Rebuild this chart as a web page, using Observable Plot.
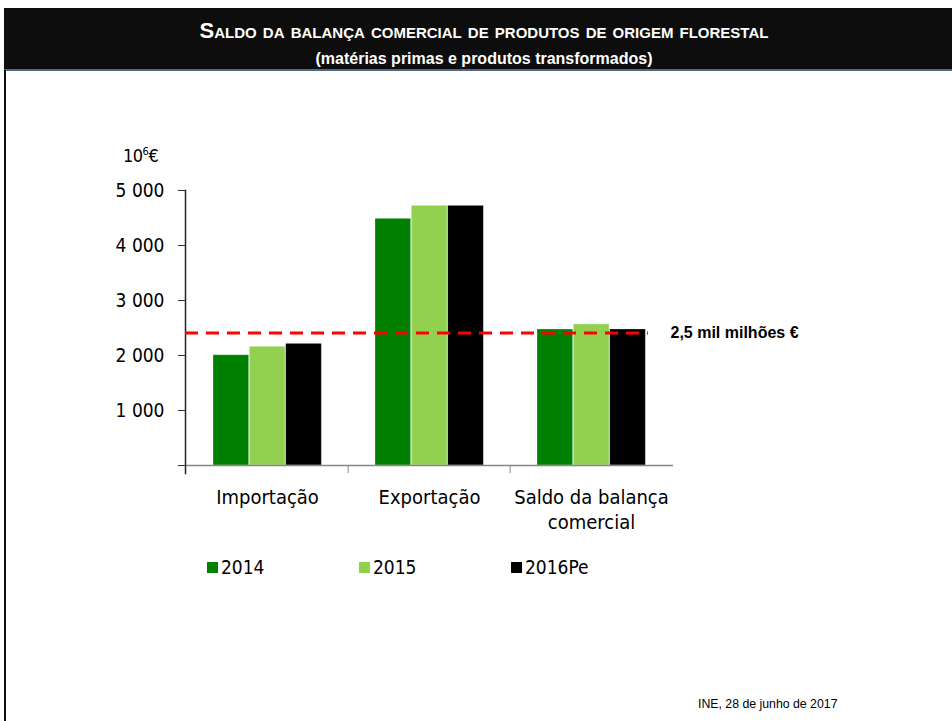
<!DOCTYPE html>
<html>
<head>
<meta charset="utf-8">
<script src="https://cdn.jsdelivr.net/npm/d3@7"></script>
<script src="https://cdn.jsdelivr.net/npm/@observablehq/plot@0.6"></script>
<style>
  html, body { margin: 0; padding: 0; }
  body { width: 952px; height: 721px; position: relative; overflow: hidden; background: #fff;
         font-family: "DejaVu Sans Condensed", "DejaVu Sans", sans-serif; font-stretch: condensed; color: #000; }
  #header { position: absolute; left: 4px; top: 8px; width: 960px; height: 61px; background: #0d0d0d;
            border-bottom: 2px solid #50698a; color: #fff; text-align: center;
            font-family: "Liberation Sans", sans-serif; font-weight: bold; font-stretch: normal; }
  #title { position: absolute; left: 0; right: 0; top: 12px; font-size: 22px; font-variant: small-caps; line-height: 22px; }
  #subtitle { position: absolute; left: 0; right: 0; top: 42px; font-size: 16px; line-height: 18px; }
  #leftline { position: absolute; left: 4px; top: 70px; width: 2px; height: 660px; background: #0d0d0d; }
  #unit { position: absolute; left: 123px; top: 145px; font-size: 18px; letter-spacing: -0.5px; }
  #unit sup { font-size: 11px; vertical-align: 7px; }
  #chart { position: absolute; left: 0; top: 130px; }
  #legend { position: absolute; top: 556px; left: 0; font-size: 19px; }
  .item { position: absolute; white-space: nowrap; display: flex; align-items: center; }
  .sw { width: 11px; height: 11px; margin-right: 3px; }
  #footer { position: absolute; left: 698px; top: 697px; font-family: "Liberation Sans", sans-serif;
            font-stretch: normal; font-size: 12.3px; }
</style>
</head>
<body>
<div id="header"><div id="title"></div><div id="subtitle"></div></div>
<div id="leftline"></div>
<div id="unit"></div>
<div id="chart"></div>
<div id="legend"></div>
<div id="footer"></div>
<script>
// ---- data ----
const titleText = "Saldo da balança comercial de produtos de origem florestal";
const subtitleText = "(matérias primas e produtos transformados)";
const footerText = "INE, 28 de junho de 2017";
const categories = ["Importação", "Exportação", "Saldo da balança comercial"];
const categoryLabels = ["Importação", "Exportação", "Saldo da balança\ncomercial"];
const years = ["2014", "2015", "2016Pe"];
const colors = ["#008000", "#92d050", "#000000"];
const values2014 = [2005, 4485, 2473];
const values2015 = [2158, 4721, 2564];
const values2016 = [2212, 4721, 2473];
const yTicks = [0, 1000, 2000, 3000, 4000, 5000];
const referenceValue = 2410;
const referenceLabel = "2,5 mil milhões €";
const unitBase = "10";
const unitSup = "6";
const unitSuffix = "€";

// ---- text ----
document.getElementById("title").textContent = titleText.toUpperCase().charAt(0) + titleText.slice(1);
document.getElementById("subtitle").textContent = subtitleText;
document.getElementById("footer").textContent = footerText;
document.getElementById("unit").innerHTML = unitBase + "<sup>" + unitSup + "</sup>" + unitSuffix;

// ---- chart ----
const width = 952, height = 410;
const marginLeft = 185, marginRight = 279, marginTop = 60, marginBottom = 75;
const bw = (width - marginLeft - marginRight) / categories.length;
const groupStart = 0.166, groupEnd = 0.836;
const barW = (groupEnd - groupStart) / years.length;
const series = [values2014, values2015, values2016];
const labelOf = new Map(categories.map((c, i) => [c, categoryLabels[i]]));

const barMarks = years.map((yr, j) => Plot.barY(
  categories.map((c, i) => ({category: c, year: yr, value: series[j][i]})),
  {
    x: "category", y: "value", fill: colors[j],
    stroke: "#ffffff", strokeOpacity: 0.35, strokeWidth: 0.8,
    insetLeft: bw * (groupStart + j * barW),
    insetRight: bw * (1 - groupStart - (j + 1) * barW)
  }
));

const chart = Plot.plot({
  width, height, marginLeft, marginRight, marginTop, marginBottom,
  style: {fontFamily: '"DejaVu Sans Condensed", "DejaVu Sans", sans-serif', color: "#000", background: "transparent"},
  x: {domain: categories, padding: 0, axis: null, label: null},
  y: {domain: [0, 5000], axis: null, label: null},
  marks: [
    ...barMarks,
    Plot.ruleY([0], {stroke: "#868686", strokeWidth: 1.5}),
    Plot.frame({anchor: "left", stroke: "#222", strokeWidth: 1.5, insetBottom: -8}),
    Plot.axisY(yTicks, {
      label: null, tickSize: 7, tickPadding: 14, fontSize: 19, stroke: "#333",
      tickFormat: d => d === 0 ? "" : d3.format(",")(d).replace(/,/g, " ")
    }),
    Plot.axisX(categories.slice(1), {label: null, tickSize: 8, tickFormat: () => "", dx: -bw / 2, stroke: "#868686"}),
    Plot.axisX(categories, {label: null, tickSize: 0, tickPadding: 21, fontSize: 20, lineHeight: 1.25,
      tickFormat: d => labelOf.get(d)}),
    Plot.ruleY([referenceValue], {stroke: "#ff0000", strokeWidth: 3, strokeDasharray: "13,8", insetRight: 25}),
    Plot.text([{label: referenceLabel, value: referenceValue}], {
      y: "value", text: "label", frameAnchor: "right", textAnchor: "start", dx: -3,
      fontWeight: "bold", fontSize: 16, fontFamily: '"Liberation Sans", sans-serif'
    })
  ]
});
document.getElementById("chart").appendChild(chart);

// ---- legend ----
const legendX = [207, 359, 511];
const legend = document.getElementById("legend");
years.forEach((yr, j) => {
  const item = document.createElement("div");
  item.className = "item";
  item.style.left = legendX[j] + "px";
  item.innerHTML = `<span class="sw" style="background:${colors[j]}"></span><span>${yr}</span>`;
  legend.appendChild(item);
});
</script>
</body>
</html>
